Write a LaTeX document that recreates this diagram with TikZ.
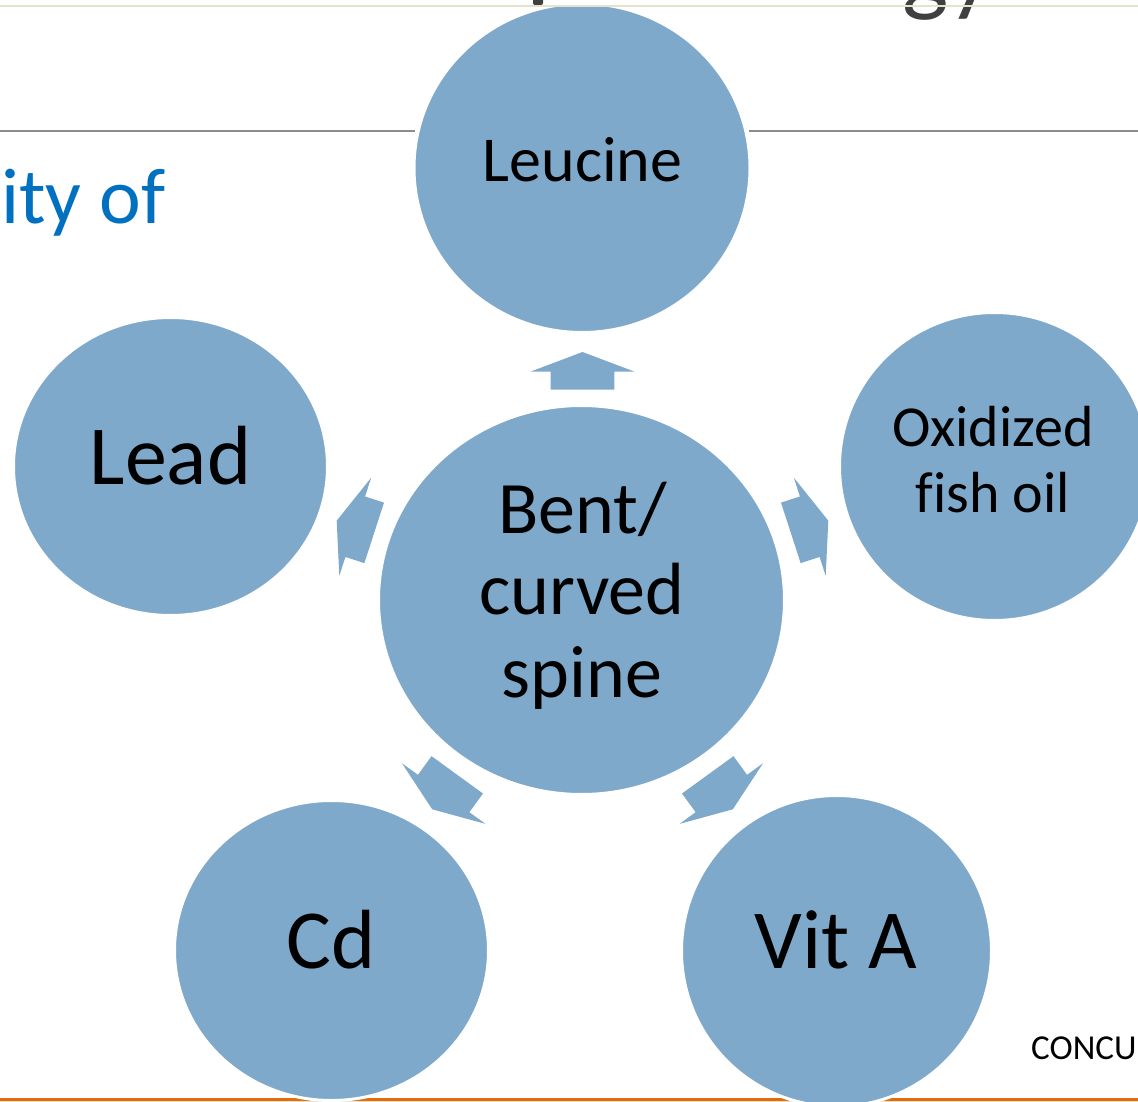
\documentclass[tikz,border=0pt]{standalone}
\usepackage{fontspec}
\setmainfont{Carlito}[Ligatures=NoCommon]
\usetikzlibrary{shapes.geometric}
\definecolor{bubblefill}{HTML}{7FA9CB}
\definecolor{titlegray}{HTML}{404040}
\definecolor{subblue}{HTML}{0070C0}
\definecolor{rulegray}{HTML}{8C8C8C}
\definecolor{accentorange}{HTML}{E46C0A}
\definecolor{creamline}{HTML}{E6E2D0}
\begin{document}
\begin{tikzpicture}[x=1pt,y=-1pt,
  bubble/.style={ellipse, fill=bubblefill, draw=white, line width=3pt, inner sep=0pt},
  lbl/.style={inner sep=0pt, anchor=base, text=black},
  pics/blockarrow/.style={code={\fill[bubblefill] (0,0) -- (-19.5,51.6) -- (-19.5,31.8) -- (-#1,31.8) -- (-#1,-31.8) -- (-19.5,-31.8) -- (-19.5,-51.6) -- cycle;}}
]
\useasboundingbox (0,0) rectangle (1138,1102);
\clip (0,0) rectangle (1138,1102);
\fill[white] (0,0) rectangle (1138,1102);
% slide decoration lines
\draw[accentorange, line width=3.5pt] (0,1099.3) -- (1138,1099.3);
\draw[creamline, line width=1pt] (0,1101.8) -- (1138,1101.8);
\draw[rulegray, line width=1.3pt] (0,131) -- (415,131);
\draw[rulegray, line width=1.3pt] (749,131) -- (1138,131);
% bubbles
\node[bubble, minimum width=336pt, minimum height=329pt] (leucine) at (582,168) {};
\node[bubble, minimum width=406pt, minimum height=389pt] (spine) at (581.5,600) {};
\node[bubble, minimum width=314pt, minimum height=298pt] (lead) at (170.5,466.5) {};
\node[bubble, minimum width=310pt, minimum height=308pt] (fishoil) at (994.5,466.5) {};
\node[bubble, minimum width=314pt, minimum height=300pt] (cd) at (331.5,950.5) {};
\node[bubble, minimum width=310pt, minimum height=311pt] (vita) at (836.5,951) {};
% block arrows
\pic[rotate=90] (arrLeucine) at (582.5,352) {blockarrow=37.6};
\pic[rotate=162] (arrLead) at (336.7,520.7) {blockarrow=39.4};
\pic[rotate=18] (arrFish) at (828.3,520.7) {blockarrow=39.4};
\pic[rotate=234] (arrCd) at (432.2,809.3) {blockarrow=42.6};
\pic[rotate=306] (arrVitA) at (732.8,809.3) {blockarrow=42.6};
% labels
\node[lbl, font=\fontsize{64}{70}\selectfont] (tLeucine) at (582.5,182) {Leucine};
\node[lbl, font=\fontsize{84}{90}\selectfont] (tLead) at (170.5,484) {Lead};
\node[lbl, font=\fontsize{58}{64}\selectfont] (tOx1) at (993,446) {Oxidized};
\node[lbl, font=\fontsize{58}{64}\selectfont] (tOx2) at (993,512) {fish oil};
\node[lbl, font=\fontsize{74}{80}\selectfont] (tBent1) at (583,533) {Bent/};
\node[lbl, font=\fontsize{74}{80}\selectfont] (tBent2) at (582,614) {curved};
\node[lbl, font=\fontsize{74}{80}\selectfont] (tBent3) at (582,697) {spine};
\node[lbl, font=\fontsize{84}{90}\selectfont] (tCd) at (331,968) {Cd};
\node[lbl, font=\fontsize{84}{90}\selectfont] (tVitA) at (836,968) {Vit A};
% slide texts
\node[inner sep=0pt, anchor=base west, text=subblue, font=\fontsize{79}{84}\selectfont] (subtitle) at (1,224) {ity of};
\node[inner sep=0pt, anchor=base west, text=black, font=\fontsize{35}{40}\selectfont] (footer) at (1031,1059) {CONCU};
\node[inner sep=0pt, anchor=base west, text=titlegray, font=\fontsize{98}{100}\selectfont] (titlegy) at (902,4) {gy};
\fill[titlegray, rounded corners=2pt] (533,-4) rectangle (543,5);
\draw[creamline, line width=2pt] (0,6.5) -- (1138,6.5);
\end{tikzpicture}
\end{document}
